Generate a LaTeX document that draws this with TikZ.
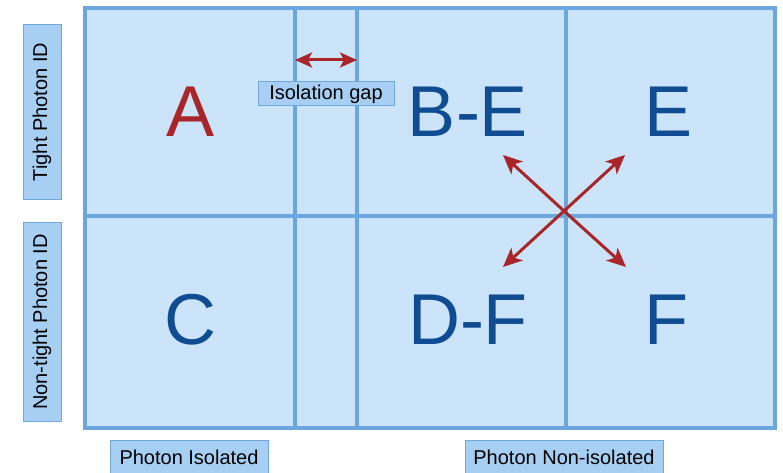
\documentclass[tikz,border=0pt]{standalone}
\usepackage{fontspec}
\setmainfont{Liberation Sans}
\usetikzlibrary{arrows.meta}
\definecolor{cellfill}{HTML}{CCE4FA}
\definecolor{gridline}{HTML}{6CA6DE}
\definecolor{labfill}{HTML}{A6CFF3}
\definecolor{labline}{HTML}{6FA8DC}
\definecolor{darkred}{HTML}{A8262A}
\definecolor{darkblue}{HTML}{0F4C92}
\tikzset{
  gridln/.style={draw=gridline, line width=3.5pt},
  labbox/.style={draw=labline, fill=labfill, line width=1pt, inner sep=0pt, font=\fontsize{20}{22}\selectfont, text=black},
  bigletter/.style={font=\fontsize{72}{76}\selectfont, inner sep=0pt},
  redarrow/.style={draw=darkred, line width=3pt, -{Stealth[length=19pt,width=17pt,inset=5pt]}},
}
\begin{document}
\begin{tikzpicture}[x=1pt,y=-1pt]
\useasboundingbox (0,0) rectangle (783,473);
\clip (0,0) rectangle (783,473);
\fill[white] (0,0) rectangle (783,473);
% grid
\fill[cellfill] (85,8) rectangle (775,428);
\draw[gridln] (295,8) -- (295,428);
\draw[gridln] (357,8) -- (357,428);
\draw[gridln] (566,8) -- (566,428);
\draw[gridln] (85,216) -- (775,216);
\draw[gridln] (85,8) rectangle (775,428);
% letters
\node[bigletter, text=darkred] (A) at (191,112) {A};
\node[bigletter, text=darkblue] (BE) at (468,112) {B-E};
\node[bigletter, text=darkblue] (E) at (668,112) {E};
\node[bigletter, text=darkblue] (C) at (190,320) {C};
\node[bigletter, text=darkblue] (DF) at (468,320) {D-F};
\node[bigletter, text=darkblue] (F) at (666,320) {F};
% isolation gap
\coordinate (gl) at (295,60);
\coordinate (gr) at (357,60);
\draw[draw=darkred, line width=3pt, {Stealth[length=17pt,width=15pt,inset=4pt]}-{Stealth[length=17pt,width=15pt,inset=4pt]}] (gl) -- (gr);
\node[labbox, minimum width=136pt, minimum height=24pt] (gap) at (326,94) {Isolation gap};
% cross arrows
\coordinate (ctr) at (564,211);
\coordinate (tl) at (503,155);
\coordinate (tr) at (625,155);
\coordinate (bl) at (503,267);
\coordinate (br) at (626,267);
\draw[redarrow] (ctr) -- (tl);
\draw[redarrow] (ctr) -- (tr);
\draw[redarrow] (ctr) -- (bl);
\draw[redarrow] (ctr) -- (br);
% side labels
\node[labbox, rotate=90, minimum width=174pt, minimum height=38pt] (tight) at (42,112) {Tight Photon ID};
\node[labbox, rotate=90, minimum width=199pt, minimum height=38pt] (nontight) at (42,322) {Non-tight Photon ID};
% bottom labels
\node[labbox, minimum width=158pt, minimum height=40pt, anchor=north] (iso) at (189,440) {\raisebox{7pt}{Photon Isolated}};
\node[labbox, minimum width=198pt, minimum height=40pt, anchor=north] (noniso) at (564,440) {\raisebox{7pt}{Photon Non-isolated}};
\end{tikzpicture}
\end{document}
